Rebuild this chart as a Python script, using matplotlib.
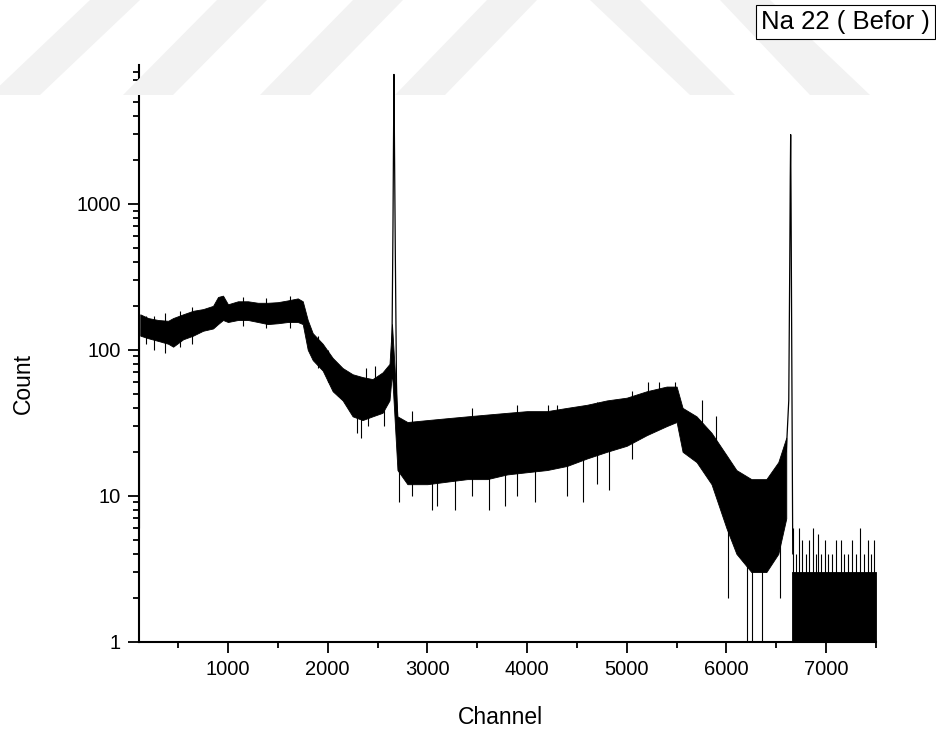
import matplotlib.pyplot as plt
from matplotlib.patches import Polygon
from matplotlib.ticker import FixedLocator, LogLocator, NullFormatter
import numpy as np

# Na-22 spectrum (band of the noisy trace: low / high counts)
canal = [120, 200, 300, 400, 450, 550, 650, 750, 850, 900, 950, 1000, 1100, 1200,
         1300, 1400, 1500, 1600, 1700, 1750, 1800, 1850, 1950, 2050, 2150, 2250,
         2350, 2450, 2550, 2620, 2645, 2700, 2800, 3000, 3200, 3400, 3600, 3800,
         4000, 4200, 4400, 4600, 4800, 5000, 5200, 5400, 5500, 5560, 5700, 5850,
         6000, 6100, 6250, 6400, 6520, 6600]
contagem_baixa = [125, 120, 115, 110, 105, 118, 125, 135, 140, 150, 160, 155, 160, 160,
                  155, 150, 152, 155, 155, 150, 100, 85, 72, 52, 45, 35,
                  33, 35, 37, 45, 70, 15, 12, 12, 12.5, 13, 13, 14,
                  14.5, 15, 16, 18, 20, 22, 26, 30, 32, 20, 17, 12,
                  6, 4, 3, 3, 4, 7]
contagem_alta = [175, 165, 160, 158, 165, 175, 185, 190, 200, 230, 235, 205, 215, 215,
                 210, 210, 212, 218, 225, 215, 160, 130, 110, 88, 75, 68,
                 65, 63, 70, 80, 150, 35, 32, 33, 34, 35, 36, 37,
                 38, 38, 40, 42, 45, 47, 52, 56, 56, 40, 35, 27,
                 19, 15, 13, 13, 17, 25]

# tail after the 1274 keV peak (counts 0..3)
canal_cauda = [6660, 7500]
cauda_baixa = [0.5, 0.5]
cauda_alta = [3, 3]

# the two photo peaks
pico1_canal = [2645, 2655, 2660, 2665, 2670, 2678, 2690, 2700]
pico1_contagem = [110, 700, 2500, 7700, 2500, 500, 60, 30]
pico2_canal = [6600, 6625, 6635, 6640, 6644, 6648, 6655, 6665]
pico2_contagem = [20, 45, 400, 1500, 2980, 1000, 100, 4]

# single spikes: channel, bottom, top
espiga_canal = [110, 180, 260, 370, 520, 640, 1150, 1380, 1620, 1900, 2000, 2100,
                2290, 2330, 2380, 2400, 2470, 2560, 2720, 2850, 3050, 3100, 3280, 3450,
                3620, 3780, 3900, 4080, 4210, 4300, 4400, 4560, 4700, 4820, 5050, 5210,
                5320, 5480, 5750, 5900, 6015, 6205, 6255, 6355, 6540]
espiga_baixo = [6, 110, 100, 95, 105, 110, 145, 140, 140, 75, 60, 48,
                27, 25, 50, 30, 50, 30, 9, 10, 8, 8.5, 8, 10,
                8, 8.5, 10, 9, 30, 30, 10, 9, 12, 11, 18, 40,
                45, 45, 25, 20, 2, 0.5, 0.5, 0.5, 2]
espiga_topo = [140, 170, 170, 180, 185, 195, 230, 228, 232, 125, 100, 80,
               45, 45, 75, 50, 78, 50, 20, 38, 20, 20, 20, 40,
               20, 20, 42, 20, 42, 42, 22, 22, 44, 25, 52, 60,
               60, 60, 45, 35, 8, 4, 4, 4, 6]

# tail spikes above the solid part
cauda_espiga_canal = [6670, 6700, 6730, 6760, 6800, 6830, 6870, 6900, 6920, 6950,
                      6990, 7020, 7060, 7100, 7150, 7180, 7220, 7260, 7300, 7340,
                      7380, 7420, 7450, 7480]
cauda_espiga_topo = [6, 4, 6, 5, 4, 5, 6, 4, 5.5, 4, 5, 4, 4, 5, 5, 4, 4, 5,
                     4, 6, 4, 5, 4, 5]

plt.rcParams["font.family"] = ["Liberation Sans", "DejaVu Sans"]

fig = plt.figure(figsize=(9.37, 7.34), dpi=100)

# faint watermark stripes behind the chart (pixel coords, y from the top)
listras = [
    [(-10, 95), (40, 95), (140, 0), (90, 0)],
    [(123, 95), (173, 95), (267, 0), (217, 0)],
    [(260, 95), (310, 95), (403, 0), (353, 0)],
    [(395, 95), (445, 95), (537, 0), (487, 0)],
    [(590, 0), (640, 0), (735, 95), (690, 95)],
    [(720, 0), (770, 0), (870, 95), (810, 95)],
]
for listra in listras:
    pts = [(x / 937, 1 - y / 734) for x, y in listra]
    fig.patches.append(Polygon(pts, closed=True, transform=fig.transFigure,
                               facecolor="#f2f2f2", edgecolor="none", zorder=0))

ax = fig.add_axes([0.1483, 0.1257, 0.7866, 0.7857])
ax.set_facecolor("none")

ax.fill_between(canal, contagem_baixa, contagem_alta, color="black", lw=0.6)
ax.fill_between(canal_cauda, cauda_baixa, cauda_alta, color="black", lw=0.6)
ax.plot(pico1_canal, pico1_contagem, color="black", lw=0.9)
ax.plot(pico2_canal, pico2_contagem, color="black", lw=0.9)
ax.vlines(espiga_canal, espiga_baixo, espiga_topo, color="black", lw=0.8)
ax.vlines(cauda_espiga_canal, 2.5, cauda_espiga_topo, color="black", lw=0.8)

ax.set_yscale("log")
ax.set_xlim(107, 7500)
ax.set_ylim(1, 8930)

ax.xaxis.set_major_locator(FixedLocator([1000, 2000, 3000, 4000, 5000, 6000, 7000]))
ax.xaxis.set_minor_locator(FixedLocator([500, 1500, 2500, 3500, 4500, 5500, 6500, 7500]))
ax.yaxis.set_major_locator(FixedLocator([1, 10, 100, 1000]))
ax.yaxis.set_minor_locator(LogLocator(base=10, subs=np.arange(2, 10)))
ax.yaxis.set_minor_formatter(NullFormatter())
ax.set_yticklabels(["1", "10", "100", "1000"])

ax.spines["top"].set_visible(False)
ax.spines["right"].set_visible(False)
ax.spines["left"].set_linewidth(1.5)
ax.spines["bottom"].set_linewidth(1.5)
ax.tick_params(which="major", direction="out", length=8, width=1.3, labelsize=14.5, pad=5)
ax.tick_params(which="minor", direction="out", length=4, width=1.3)

ax.set_xlabel("Channel", fontsize=16.5)
ax.set_ylabel("Count", fontsize=16.5)
ax.xaxis.label.set_va("center")
ax.yaxis.label.set_va("center")
ax.xaxis.set_label_coords(0.49, -0.132)
ax.yaxis.set_label_coords(-0.157, 0.447)

fig.text(0.9925, 0.9705, "Na 22 ( Befor )", fontsize=18.5, ha="right", va="center",
         bbox=dict(boxstyle="square,pad=0.2", facecolor="white", edgecolor="black", lw=0.8))

fig.savefig("out.png", dpi=100)
